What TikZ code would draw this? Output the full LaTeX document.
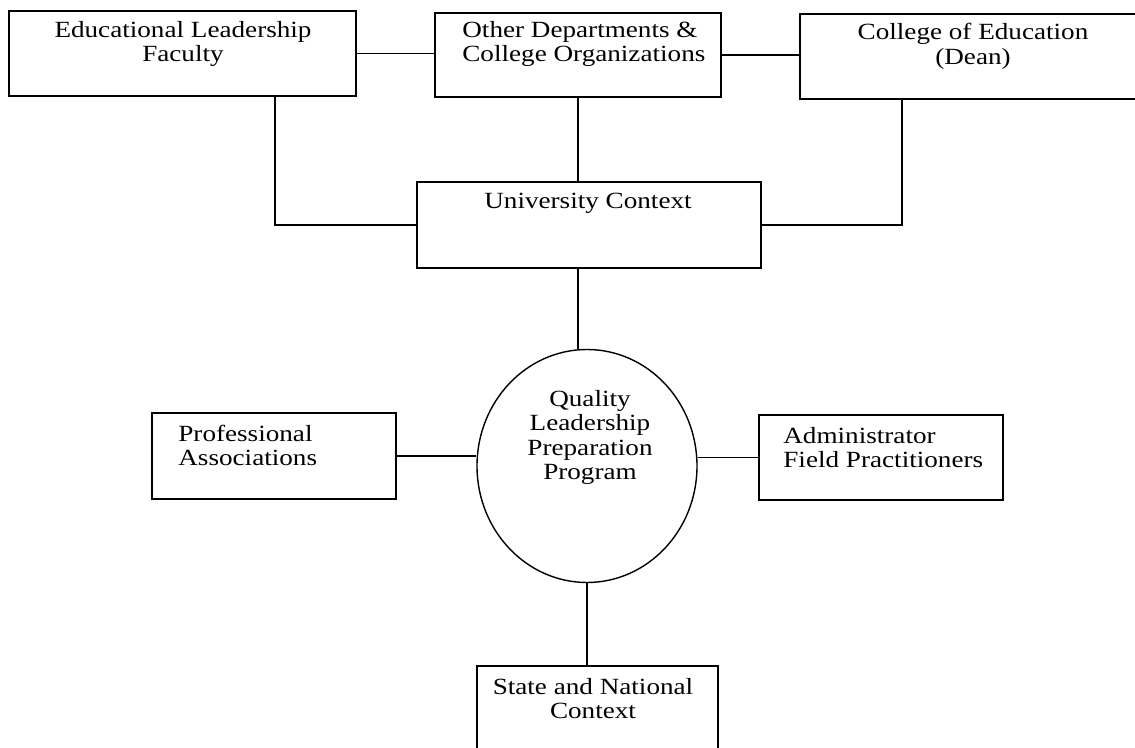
\documentclass[tikz,border=0pt]{standalone}
\usepackage{fontspec}
\setmainfont[FakeStretch=1.17]{Liberation Serif}
\usetikzlibrary{shapes.geometric}

\begin{document}
\begin{tikzpicture}[line width=1pt,
    every node/.style={align=center, font=\fontsize{16.5}{17.5}\selectfont},
    box/.style={draw, minimum height=2.125cm},
    lefttext/.style={anchor=west, align=left}]
      \useasboundingbox (0,0) rectangle (28.375,18.675);

      % Top row
      \node (elf) [box, minimum width=8.675cm] at (4.5625,17.3375) {};
      \node (elftext) at (4.575,17.575) {Educational Leadership\\Faculty};
      \node (od) [box, minimum width=7.15cm, minimum height=2.1cm] at (14.45,17.3) {};
      \node (odtext) [lefttext] at (11.425,17.575) {Other Departments \&\\College Organizations};
      \node (coe) [box, minimum width=8.625cm] at (24.3125,17.2625) {};
      \node (coetext) at (24.325,17.5125) {College of Education\\(Dean)};
      \draw (elf.east) -- (elf.east -| od.west);
      \draw (od.east) -- (od.east -| coe.west);

      % University Context
      \node (uc) [box, minimum width=8.6cm, minimum height=2.15cm] at (14.725,13.05) {};
      \node (uctext) at (14.7,13.6) {University Context};
      \draw ([xshift=2.3125cm]elf.south) |- (uc.west);
      \draw (od.south) -- (od.south |- uc.north);
      \draw ([xshift=-1.7625cm]coe.south) |- (uc.east);

      % Program
      \node (qlp) [draw, ellipse, minimum width=5.5cm, minimum height=5.825cm] at (14.675,7.025) {};
      \node (qlptext) at (14.75,7.7375) {Quality\\Leadership\\Preparation\\Program};
      \draw (od.south |- uc.south) -- (od.south |- qlp.north);

      % Side boxes
      \node (pa) [box, minimum width=6.1cm, minimum height=2.15cm] at (6.85,7.275) {};
      \node (patext) [lefttext] at (4.325,7.5375) {Professional\\Associations};
      \node (adm) [box, minimum width=6.1cm] at (22.025,7.2375) {};
      \node (admtext) [lefttext] at (19.45,7.4875) {Administrator\\Field Practitioners};
      \draw (pa.east) -- (pa.east -| qlp.west);
      \draw (adm.west) -- (adm.west -| qlp.east);

      % State and National Context
      \node (st) [box, minimum width=6.025cm, minimum height=2.2cm] at (14.9375,0.925) {};
      \node (sttext) at (14.825,1.2125) {State and National\\Context};
      \draw (qlp.south) -- (qlp.south |- st.north);

    \end{tikzpicture}
\end{document}
